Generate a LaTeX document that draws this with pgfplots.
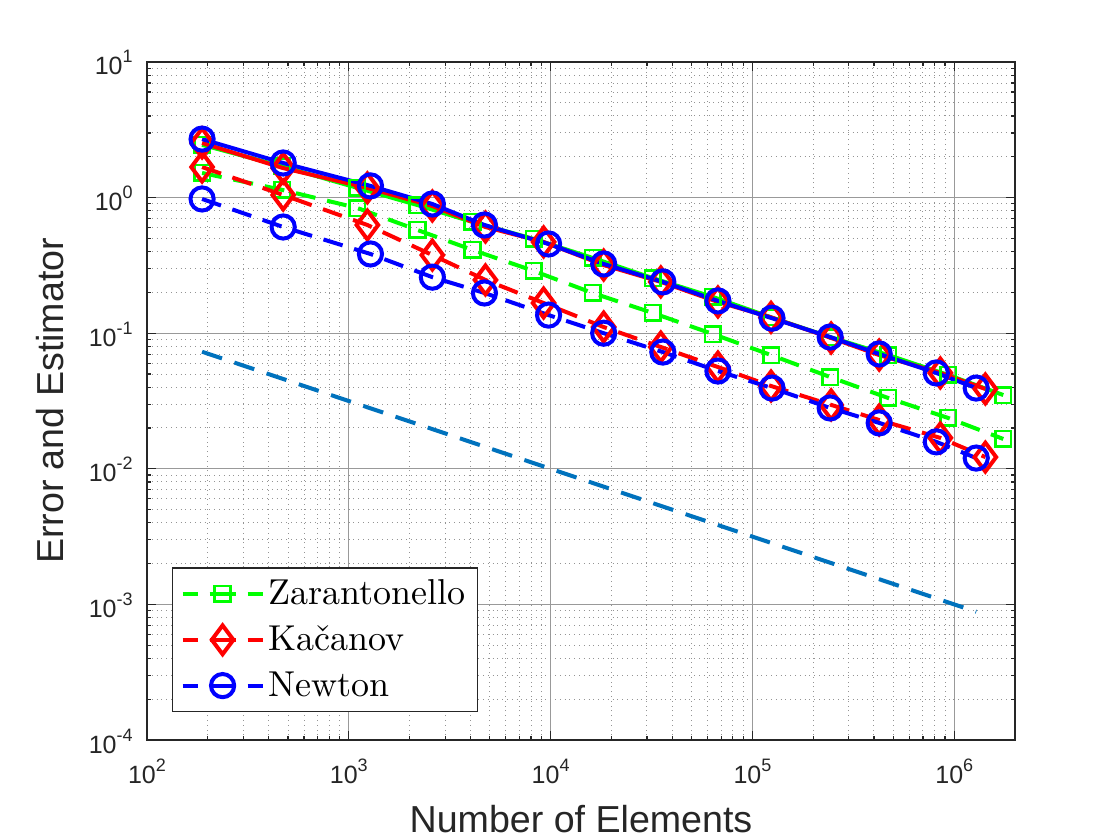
\documentclass[border=0pt]{standalone}
\usepackage{fontspec}
\usepackage{pgfplots}
\pgfplotsset{compat=1.18}
\newfontfamily\helv{Liberation Sans}
\newfontfamily\lmten{lmroman10-regular.otf}
\definecolor{zgreen}{rgb}{0,1,0}
\definecolor{kred}{rgb}{1,0,0}
\definecolor{nblue}{rgb}{0,0,1}
\definecolor{refblue}{rgb}{0,0.447,0.741}
% power-of-ten tick label
\newcommand\tl[1]{10\raisebox{6pt}{\fontsize{9}{9}\selectfont#1}}

\begin{document}
\begin{tikzpicture}
\begin{axis}[
  scale only axis, width=434pt, height=339pt,
  xmode=log, ymode=log,
  xmin=100, xmax=2e6, ymin=1e-4, ymax=10,
  xtick={1e2,1e3,1e4,1e5,1e6},
  xticklabels={\tl{2},\tl{3},\tl{4},\tl{5},\tl{6}},
  minor xtick={200,300,400,500,600,700,800,900,
    2000,3000,4000,5000,6000,7000,8000,9000,
    20000,30000,40000,50000,60000,70000,80000,90000,
    200000,300000,400000,500000,600000,700000,800000,900000,
    2000000},
  ytick={1e-4,1e-3,1e-2,1e-1,1,10},
  yticklabels={\tl{-4},\tl{-3},\tl{-2},\tl{-1},\tl{0},\tl{1}},
  minor ytick={2e-4,3e-4,4e-4,5e-4,6e-4,7e-4,8e-4,9e-4,
    2e-3,3e-3,4e-3,5e-3,6e-3,7e-3,8e-3,9e-3,
    2e-2,3e-2,4e-2,5e-2,6e-2,7e-2,8e-2,9e-2,
    0.2,0.3,0.4,0.5,0.6,0.7,0.8,0.9,
    2,3,4,5,6,7,8,9},
  grid=both,
  major grid style={black!40, line width=0.5pt},
  minor grid style={black!42, dotted, line width=0.5pt},
  axis line style={black!85, line width=0.6pt},
  tick style={black!85, line width=0.6pt},
  major tick length=4.3pt, minor tick length=2.2pt,
  tick align=inside,
  xticklabel style={font=\helv\fontsize{12.5}{14}\selectfont, text=black!85,
    inner sep=0pt, anchor=base, yshift=-21.5pt},
  yticklabel style={font=\helv\fontsize{12.5}{14}\selectfont, text=black!85,
    inner sep=0pt, anchor=base east, xshift=-7pt, yshift=-6.5pt},
  xlabel={Number of Elements},
  ylabel={Error and Estimator},
  xlabel style={font=\helv\fontsize{18.8}{22}\selectfont, text=black!85,
    at={(axis description cs:0.5,-0.1165)}, anchor=center},
  ylabel style={font=\helv\fontsize{18.8}{22}\selectfont, text=black!85,
    at={(axis description cs:-0.1117,0.5)}, anchor=center},
  legend style={at={(0.0288,0.0413)}, anchor=south west,
    draw=black!85, line width=0.6pt, fill=white,
    font=\lmten\fontsize{18}{22}\selectfont,
    inner xsep=4pt, inner ysep=4pt, row sep=5pt,
    cells={anchor=west}},
  /tikz/every even column/.append style={column sep=4pt},
  legend image code/.code={
    \draw[mark repeat=2, mark phase=2,
      dash pattern=on 7.5pt off 6pt on 13pt off 6pt on 7.5pt]
      plot coordinates {(0pt,0pt) (20pt,0pt) (40pt,0pt)};
  },
  every axis plot/.append style={line width=2pt},
]

% Zarantonello
\addplot[zgreen, dash pattern=on 10pt off 6pt, mark=square,
  mark size=3.9pt, mark options={solid, line width=1.3pt}]
  coordinates {(187.5,1.52) (468,1.14) (1102,0.838) (2188,0.577)
  (4103,0.411) (8237,0.288) (16150,0.198) (32070,0.141) (63700,0.0986)
  (123600,0.0690) (242700,0.0475) (470000,0.0333) (933000,0.0237)
  (1750000,0.0166)};
\addlegendentry{Zarantonello}
\addplot[zgreen, solid, mark=square, forget plot,
  mark size=3.9pt, mark options={solid, line width=1.3pt}]
  coordinates {(187.5,2.45) (468,1.70) (1102,1.18) (2188,0.881)
  (4103,0.661) (8237,0.496) (16150,0.359) (32070,0.255) (63700,0.185)
  (123600,0.131) (242700,0.0937) (470000,0.0690) (933000,0.0492)
  (1750000,0.0350)};

% Kacanov
\addplot[kred, dash pattern=on 10pt off 6pt, mark=diamond,
  mark size=7.2pt, mark options={solid, line width=2pt}]
  coordinates {(187.5,1.68) (473,1.045) (1236,0.628) (2594,0.377)
  (4754,0.247) (9230,0.167) (18320,0.111) (35160,0.0791) (67450,0.0563)
  (123600,0.0408) (245500,0.0296) (424600,0.0229) (853000,0.0169)
  (1426000,0.0122)};
\addlegendentry{Ka\v{c}anov}
\addplot[kred, solid, mark=diamond, forget plot,
  mark size=7.2pt, mark options={solid, line width=2pt}]
  coordinates {(187.5,2.53) (473,1.65) (1236,1.18) (2594,0.867)
  (4754,0.607) (9230,0.471) (18320,0.318) (35160,0.239) (67450,0.170)
  (123600,0.131) (245500,0.0922) (424600,0.0690) (853000,0.0509)
  (1426000,0.0388)};

% Newton
\addplot[nblue, dash pattern=on 10pt off 6pt, mark=o,
  mark size=5.8pt, mark options={solid, line width=2pt}]
  coordinates {(187.5,0.977) (473,0.607) (1280,0.384) (2594,0.259)
  (4700,0.198) (9770,0.136) (18320,0.100) (35970,0.0726) (67450,0.0526)
  (125000,0.0394) (242700,0.0281) (424600,0.0218) (814700,0.0158)
  (1285000,0.0120)};
\addlegendentry{Newton}
\addplot[nblue, solid, mark=o, forget plot,
  mark size=5.8pt, mark options={solid, line width=2pt}]
  coordinates {(187.5,2.70) (473,1.80) (1280,1.22) (2594,0.897)
  (4700,0.628) (9770,0.455) (18320,0.324) (35970,0.239) (67450,0.173)
  (125000,0.129) (242700,0.0937) (424600,0.0703) (814700,0.0509)
  (1285000,0.0394)};

% reference slope N^{-1/2}
\addplot[refblue, dash pattern=on 10.5pt off 6.5pt, forget plot]
  coordinates {(187.5,0.0730) (1285000,0.000882)};

\end{axis}
\pgfresetboundingbox
\path (-73.5pt,-50pt) rectangle (486.5pt,370pt);
\end{tikzpicture}
\end{document}
